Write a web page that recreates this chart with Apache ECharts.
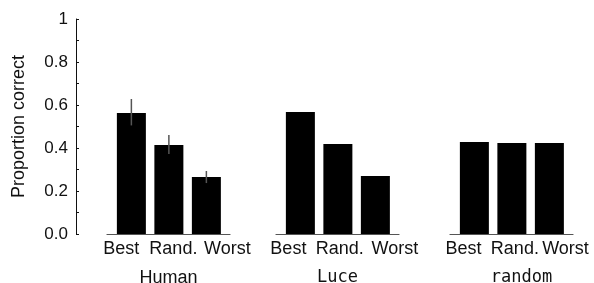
<!DOCTYPE html>
<html>
<head>
<meta charset="utf-8">
<script src="https://cdn.jsdelivr.net/npm/echarts@6/dist/echarts.min.js"></script>
<style>
  html, body { margin: 0; padding: 0; background: #fff; }
  #chart { width: 594px; height: 283px; }
</style>
</head>
<body>
<div id="chart"></div>
<script>
const conditions = ["Best", "Rand.", "Worst"];
const panels = ["Human", "Luce", "random"];
const humanValues = [0.563, 0.414, 0.265];
const humanLower = [0.505, 0.372, 0.237];
const humanUpper = [0.628, 0.46, 0.293];
const luceValues = [0.567, 0.419, 0.27];
const randomValues = [0.428, 0.423, 0.423];
const yTicks = [0, 0.2, 0.4, 0.6, 0.8, 1];

const sans = "Liberation Sans";
const mono = "DejaVu Sans Mono";

// one small grid per panel, the y axis drawn only on the first one
const grids = [
  { left: 107, width: 123, top: 19, bottom: 49, outerBoundsMode: "none" },
  { left: 276, width: 123, top: 19, bottom: 49, outerBoundsMode: "none" },
  { left: 450, width: 123, top: 19, bottom: 49, outerBoundsMode: "none" },
];
// where the condition labels sit (in bar index units)
const labelSpots = [
  [-0.27, 1.12, 2.56],
  [-0.32, 1.05, 2.52],
  [-0.29, 1.08, 2.43],
];

function xAxisFor(i) {
  const spots = labelSpots[i];
  return {
    type: "value",
    gridIndex: i,
    min: -0.65,
    max: 2.63,
    splitLine: { show: false },
    axisLine: { show: true, onZero: false, lineStyle: { color: "#555", width: 1.2 } },
    axisTick: { show: false },
    axisLabel: {
      customValues: spots,
      margin: 6,
      color: "#111",
      fontFamily: sans,
      fontSize: 18,
      formatter: function (v) {
        let k = 0;
        for (let j = 0; j < spots.length; j++) {
          if (Math.abs(spots[j] - v) < 1e-6) k = j;
        }
        return conditions[k];
      },
    },
    name: panels[i],
    nameLocation: "middle",
    nameGap: 35,
    nameTextStyle: {
      color: "#111",
      fontFamily: i === 0 ? sans : mono,
      fontSize: i === 0 ? 18 : 17,
      padding: i === 2 ? [0, 0, 0, 20] : 0,
    },
  };
}

function yAxisFor(i) {
  const shown = i === 0;
  return {
    type: "value",
    gridIndex: i,
    min: 0,
    max: 1,
    interval: 0.1,
    show: shown,
    offset: shown ? 31 : 0,
    splitLine: { show: false },
    axisLine: { show: shown, onZero: false, lineStyle: { color: "#111", width: 1 } },
    axisTick: { show: shown, inside: true, length: 3, lineStyle: { color: "#111" } },
    axisLabel: {
      show: shown,
      margin: 8,
      color: "#111",
      fontFamily: sans,
      fontSize: 17,
      formatter: function (v) {
        const r = Math.round(v * 10) / 10;
        if (!yTicks.some(t => Math.abs(t - r) < 1e-6)) return "";
        if (r === 1) return "1";
        return r.toFixed(1);
      },
    },
    name: shown ? "Proportion correct" : "",
    nameLocation: "middle",
    nameGap: 48,
    nameTextStyle: { color: "#111", fontFamily: sans, fontSize: 18 },
  };
}

function barSeries(i, values) {
  return {
    type: "bar",
    xAxisIndex: i,
    yAxisIndex: i,
    barWidth: 29,
    itemStyle: { color: "#000" },
    data: values.map((v, k) => [k, v]),
    silent: true,
    animation: false,
  };
}

const errorSeries = {
  type: "custom",
  xAxisIndex: 0,
  yAxisIndex: 0,
  data: humanValues.map((v, k) => [k, humanLower[k], humanUpper[k]]),
  encode: { x: 0, y: [1, 2] },
  z: 5,
  animation: false,
  renderItem: function (params, api) {
    const x = api.value(0);
    const p1 = api.coord([x, api.value(1)]);
    const p2 = api.coord([x, api.value(2)]);
    return {
      type: "line",
      shape: { x1: p1[0], y1: p1[1], x2: p2[0], y2: p2[1] },
      style: { stroke: "#555", lineWidth: 1.5 },
    };
  },
};

const chart = echarts.init(document.getElementById("chart"));
chart.setOption({
  animation: false,
  backgroundColor: "#fff",
  grid: grids,
  xAxis: [xAxisFor(0), xAxisFor(1), xAxisFor(2)],
  yAxis: [yAxisFor(0), yAxisFor(1), yAxisFor(2)],
  series: [
    barSeries(0, humanValues),
    barSeries(1, luceValues),
    barSeries(2, randomValues),
    errorSeries,
  ],
});
</script>
</body>
</html>
